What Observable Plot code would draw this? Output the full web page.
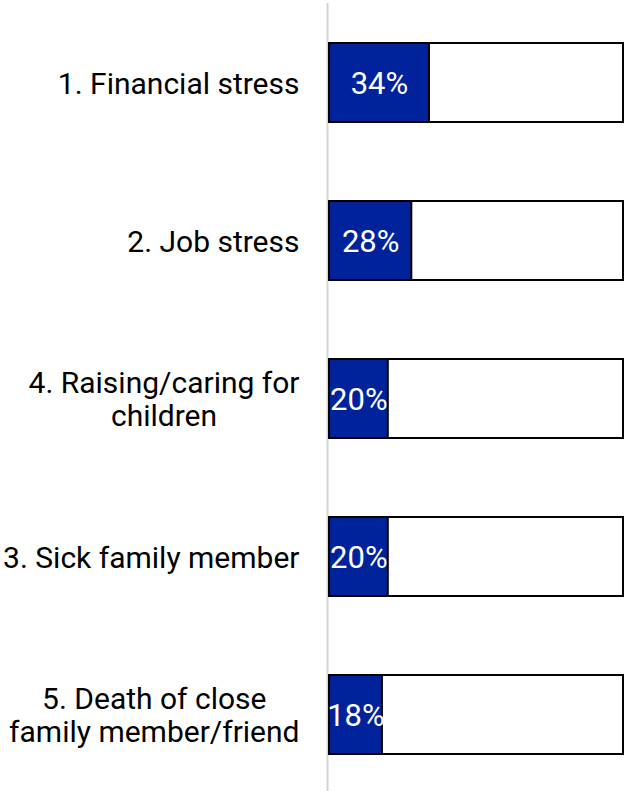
<!DOCTYPE html>
<html>
<head>
<meta charset="utf-8">
<script src="https://cdn.jsdelivr.net/npm/d3@7"></script>
<script src="https://cdn.jsdelivr.net/npm/@observablehq/plot@0.6"></script>
<style>
  html, body { margin: 0; padding: 0; background: #fff; }
  #chart { width: 626px; height: 791px; }
</style>
</head>
<body>
<div id="chart"></div>
<script>
const categories = [
  "1. Financial stress",
  "2. Job stress",
  "4. Raising/caring for\nchildren",
  "3. Sick family member",
  "5. Death of close\nfamily member/friend"
];
const values = [34, 28, 20, 20, 18];
const total = 100;

const data = categories.map((c, i) => ({category: c, value: values[i]}));
const font = "Roboto, 'Liberation Sans', sans-serif";

const chart = Plot.plot({
  width: 626,
  height: 791,
  marginLeft: 329,
  marginRight: 3,
  marginTop: 3,
  marginBottom: -3,
  style: {fontFamily: font, background: "#fff"},
  x: {domain: [0, total], axis: null},
  y: {domain: categories, axis: null, paddingInner: 0.5, paddingOuter: 0.25},
  marks: [
    Plot.ruleX([0], {dx: -2, stroke: "#d4d4d4", strokeWidth: 2}),
    Plot.barX(data, {y: "category", x1: 0, x2: total, fill: "#fff", stroke: "#000", strokeWidth: 2}),
    Plot.barX(data, {y: "category", x1: 0, x2: "value", fill: "#00239b", stroke: "#000", strokeWidth: 2}),
    Plot.text(data, {y: "category", x: d => d.value / 2, text: d => d.value + "%", fill: "#fff", fontSize: 31, dy: 1}),
    Plot.text(data, {y: "category", x: 0, text: "category", textAnchor: "end", dx: -30, fontSize: 30, fill: "#000", lineHeight: 1.1, className: "cat-labels"})
  ]
});
document.getElementById("chart").appendChild(chart);

// center the lines of multi-line labels on each other, keeping right alignment
chart.querySelectorAll(".cat-labels text").forEach(t => {
  const spans = t.querySelectorAll("tspan");
  if (spans.length < 2) return;
  let W = 0;
  spans.forEach(s => { W = Math.max(W, s.getComputedTextLength()); });
  const base = +(spans[0].getAttribute("x") || 0);
  t.setAttribute("text-anchor", "middle");
  spans.forEach(s => s.setAttribute("x", base - W / 2));
});
</script>
</body>
</html>
